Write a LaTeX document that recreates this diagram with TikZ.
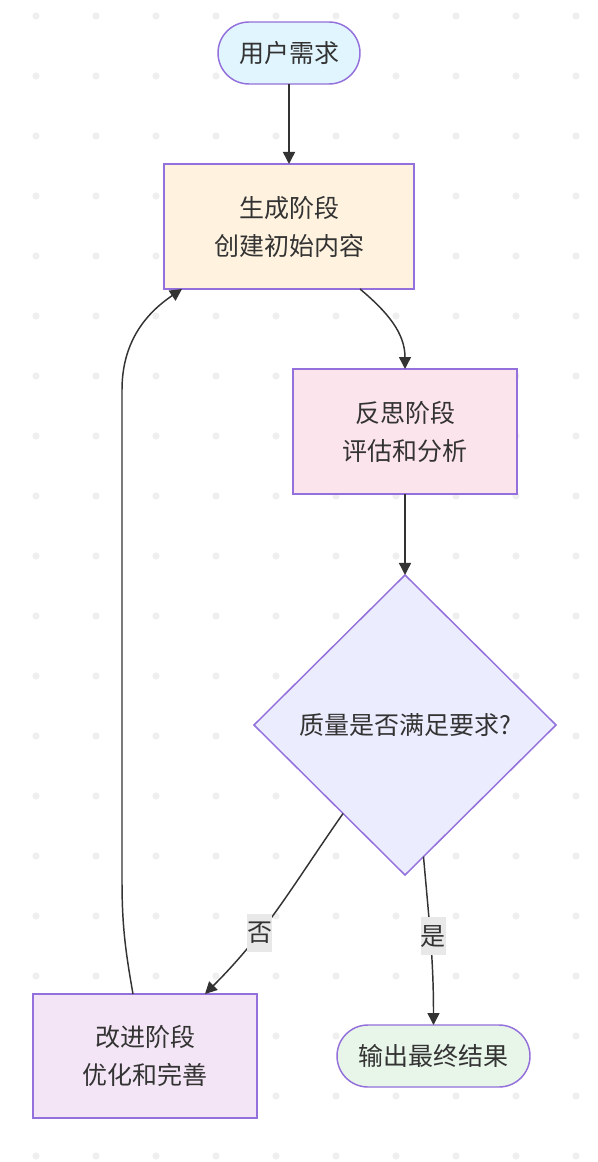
\documentclass[tikz,border=0pt]{standalone}
\usepackage{fontspec}
\setmainfont{Noto Sans CJK SC}
\usepackage{tikz}
\usetikzlibrary{shapes.geometric}
\usetikzlibrary{arrows.meta}
\usepackage{xcolor}
\definecolor{edgec}{HTML}{333333}
\definecolor{linec}{HTML}{9370DB}
\definecolor{dotc}{HTML}{EFEFEF}
\definecolor{lblc}{HTML}{E8E8E8}
\definecolor{reqc}{HTML}{E1F5FE}
\definecolor{genc}{HTML}{FFF3E0}
\definecolor{reflc}{HTML}{FCE4EC}
\definecolor{decc}{HTML}{ECECFF}
\definecolor{imprc}{HTML}{F3E5F5}
\definecolor{resc}{HTML}{E8F5E9}

\begin{document}
\begin{tikzpicture}[x=.75pt,y=.75pt,
  box/.style={draw=linec,line width=1.1pt,text=edgec,align=center,inner sep=0pt,outer sep=0pt,font=\fontsize{18.75pt}{28.5pt}\selectfont},
  pill/.style={box,rounded corners=23.25pt,minimum height=46.5pt},
  arr/.style={draw=edgec,line width=1.1pt,-{Triangle[length=9pt,width=9pt]}},
  lbl/.style={fill=lblc,text=edgec,inner sep=0pt,minimum width=18.75pt,minimum height=28.5pt,font=\fontsize{18.75pt}{28.5pt}\selectfont}]
\useasboundingbox (0,0) rectangle (597,-1162);
\fill[white] (0,0) rectangle (597,-1162);
\foreach \i in {0,...,9}
  \foreach \j in {0,...,19}
    \fill[dotc] (36+60*\i,-16-60*\j) circle (2.7pt);

\node[pill,fill=reqc,minimum width=106.5pt] (req) at (289,-53) {用户需求};
\node[box,fill=genc,minimum width=187.5pt,minimum height=93.75pt] (gen) at (289,-226.5) {生成阶段\\创建初始内容};
\node[box,fill=reflc,minimum width=168pt,minimum height=93.75pt] (refl) at (405,-431.5) {反思阶段\\评估和分析};
\node[box,diamond,fill=decc,minimum width=226.5pt,minimum height=225pt] (dec) at (405,-725) {质量是否满足要求?};
\node[box,fill=imprc,minimum width=168pt,minimum height=93pt] (impr) at (145,-1056) {改进阶段\\优化和完善};
\node[pill,fill=resc,minimum width=144.75pt] (res) at (433.5,-1056) {输出最终结果};

\coordinate (fbA) at (122,-880);
\coordinate (fbB) at (122,-390);

\draw[arr] (req) -- (gen);
\draw[arr] ([xshift=53.25pt]gen.south) to[out=-40,in=90] (refl.north);
\draw[arr] (refl) -- (dec);
\draw[arr] (dec.235) to[out=-125,in=45] node[lbl,pos=.65] {否} ([xshift=45pt]impr.north);
\draw[arr] (dec.-82) to[out=-85,in=90] node[lbl,pos=.47,xshift=2pt] {是} (res.north);
\draw[arr] ([xshift=-9pt]impr.north) to[out=100,in=-90] (fbA) -- (fbB) to[out=90,in=214] ([xshift=13.5pt]gen.south west);
\end{tikzpicture}
\end{document}
